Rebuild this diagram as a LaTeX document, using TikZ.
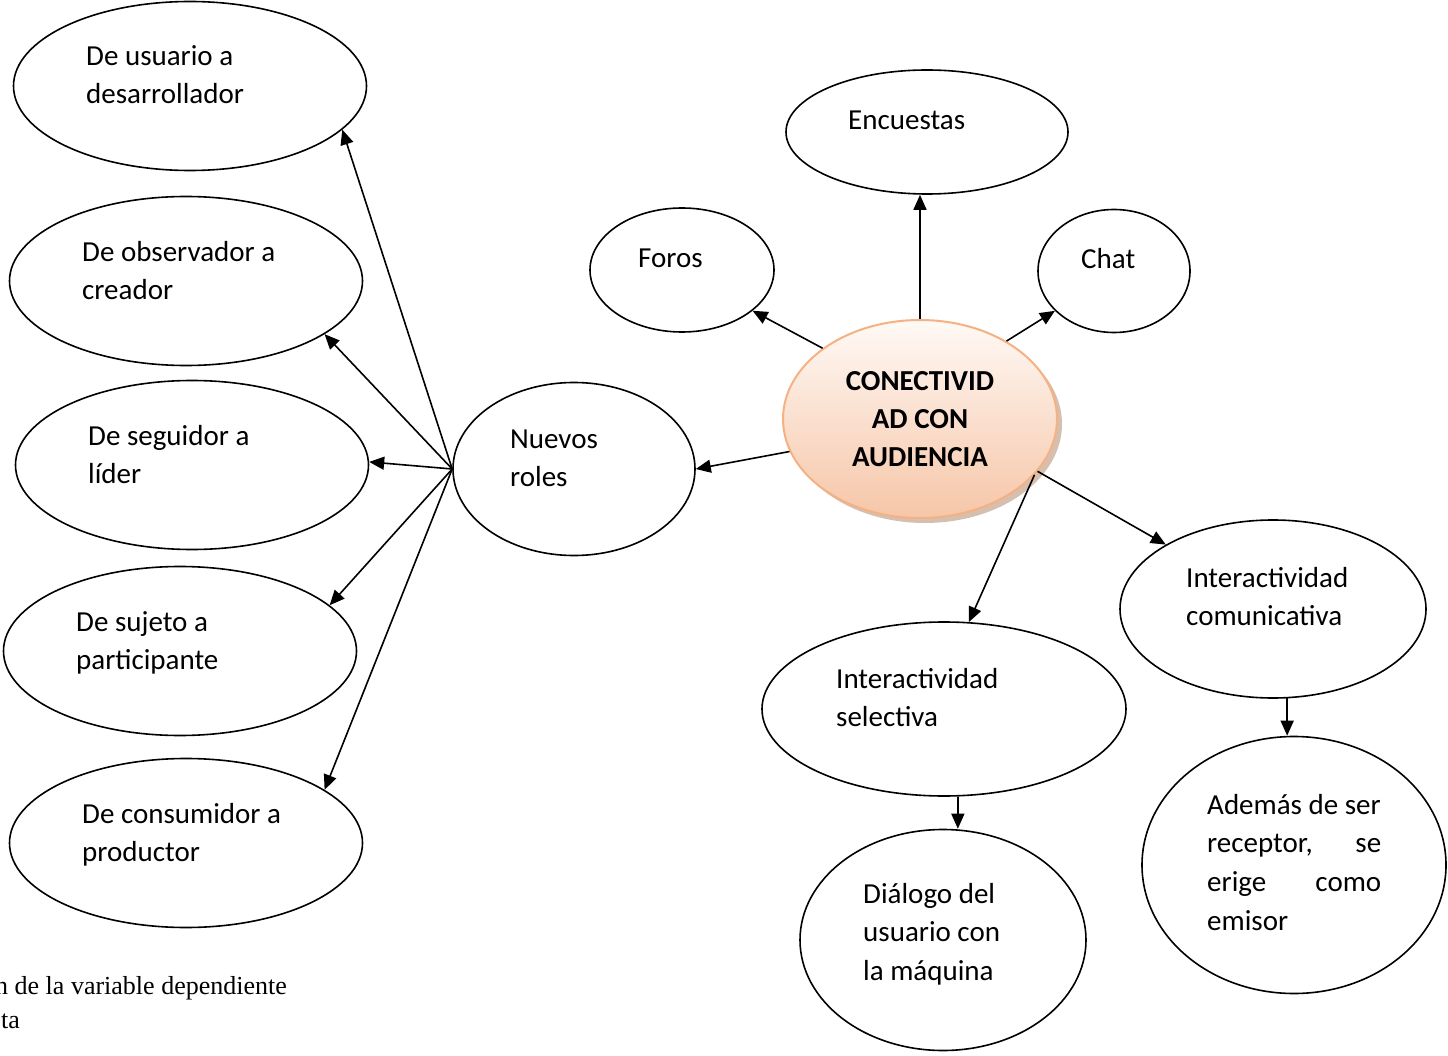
\documentclass[tikz,border=0pt]{standalone}
\usepackage{fontspec}
\setmainfont{Carlito}
\newfontfamily\capfont{Liberation Serif}
\usetikzlibrary{shapes.geometric}
\usetikzlibrary{arrows.meta}
\usetikzlibrary{shadows}

\definecolor{peachline}{RGB}{244,177,131}
\definecolor{peachtop}{RGB}{255,249,245}
\definecolor{peachbot}{RGB}{246,198,168}
\definecolor{peachshadow}{RGB}{188,148,122}

\begin{document}
\begin{tikzpicture}[x=1pt, y=-1pt,
  bubble/.style={ellipse, draw, line width=1.6pt, inner sep=0pt},
  txt/.style={anchor=north west, inner sep=0pt, yshift=-2pt, align=left, font=\fontsize{29}{38.7}\selectfont},
  link/.style={-{Triangle[length=15pt,width=13pt]}, line width=1.6pt}]
  \useasboundingbox (0,0) rectangle (1448,1056);

  % Centre
  \node[ellipse, inner sep=0pt, minimum width=274pt, minimum height=198pt,
        draw=peachline, line width=2pt, top color=peachtop, bottom color=peachbot,
        drop shadow={shadow xshift=5pt, shadow yshift=-5pt, fill=peachshadow, opacity=0.6},
        align=center, font=\bfseries\fontsize{29}{38}\selectfont]
    (central) at (920,419) {CONECTIVID\\AD CON\\AUDIENCIA};

  % Top ring
  \node[bubble, minimum width=282pt, minimum height=124pt] (encuestas) at (927,132) {};
  \node[bubble, minimum width=184pt, minimum height=124pt] (foros) at (682,270) {};
  \node[bubble, minimum width=152pt, minimum height=123pt] (chat) at (1114,271) {};
  \node[txt] (encuestasT) at (848,100) {\strut Encuestas};
  \node[txt] (forosT) at (638,238) {\strut Foros};
  \node[txt] (chatT) at (1081,239) {\strut Chat};

  % Nuevos roles and the left column
  \node[bubble, minimum width=242pt, minimum height=173pt] (roles) at (574,469) {};
  \node[txt] (rolesT) at (510,419) {\strut Nuevos\\roles};
  \foreach \n/\cx/\cy in {usuario/190/86, observador/186/281, seguidor/192/465,
                          sujeto/180/651, consumidor/186/843}
    \node[bubble, minimum width=353pt, minimum height=169pt] (\n) at (\cx,\cy) {};
  \node[txt] (usuarioT) at (86,36) {\strut De usuario a\\desarrollador};
  \node[txt] (observadorT) at (82,232) {\strut De observador a\\creador};
  \node[txt] (seguidorT) at (88,416) {\strut De seguidor a\\líder};
  \node[txt] (sujetoT) at (76,602) {\strut De sujeto a\\participante};
  \node[txt] (consumidorT) at (82,794) {\strut De consumidor a\\productor};

  % Interactividad
  \node[bubble, minimum width=306pt, minimum height=178pt] (comunicativa) at (1273,609) {};
  \node[bubble, minimum width=364pt, minimum height=174pt] (selectiva) at (944,709) {};
  \node[bubble, minimum width=286pt, minimum height=221pt] (dialogo) at (943,940) {};
  \node[bubble, minimum width=304pt, minimum height=257pt] (ademas) at (1294,865) {};
  \node[txt] (comunicativaT) at (1186,558) {\strut Interactividad\\comunicativa};
  \node[txt] (selectivaT) at (836,659) {\strut Interactividad\\selectiva};
  \node[txt] (dialogoT) at (863,874) {\strut Diálogo del\\usuario con\\la máquina};
  \node[txt] (ademasT) at (1207,785) {\strut Además de ser\\\hbox to 174pt{receptor,\hfill se}\\\hbox to 174pt{erige\hfill como}\\emisor};

  % Caption
  \node[anchor=north west, inner sep=0pt, font=\capfont\fontsize{26}{34}\selectfont]
    (notaA) at (-5,970) {\strut n de la variable dependiente};
  \node[anchor=north west, inner sep=0pt, font=\capfont\fontsize{26}{34}\selectfont]
    (notaB) at (1,1004) {\strut ta};

  % Arrows
  \draw[link] (central.north) -- (central.north |- encuestas.south);
  \draw[link] (central.144) -- (foros.-30);
  \draw[link] (central.42) -- (chat.214);
  \draw[link] (central.194) -- (roles.east);
  \draw[link] (central.-24) -- (comunicativa.149);
  \draw[link] (central.-26) -- (selectiva.74);
  \draw[link] (selectiva.-81) -- (selectiva.-81 |- dialogo.north);
  \draw[link] (comunicativa.-81) -- (comunicativa.-81 |- ademas.north);
  \foreach \n/\a in {usuario/-16, observador/-21, seguidor/1, sujeto/17, consumidor/21}
    \draw[link] (roles.west) -- (\n.\a);
\end{tikzpicture}
\end{document}
